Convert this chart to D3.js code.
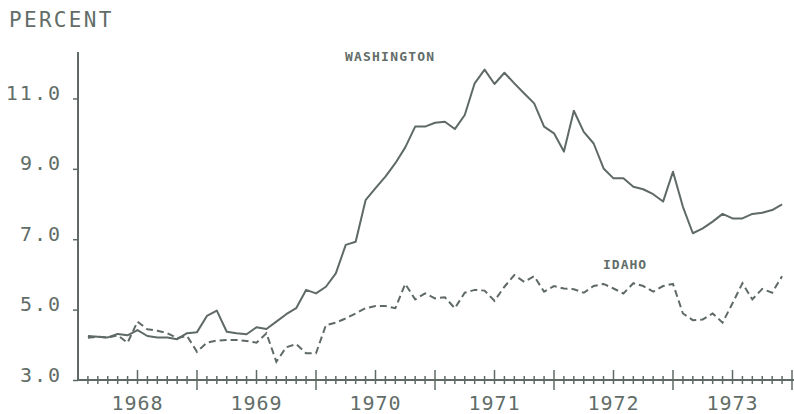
<!DOCTYPE html>
<meta charset="utf-8">
<style>
    body {
        margin: 0;
        background: #fff;
        font-family: "DejaVu Sans Mono", monospace;
    }
    .lbl { fill: #626d68; }
</style>
<body>
<script src="https://cdn.jsdelivr.net/npm/d3@7"></script>
<script>

// monthly rates, Jan 1968 .. Nov 1973
var washington = [
    4.25, 4.23, 4.21, 4.31, 4.27, 4.42, 4.25, 4.21, 4.21, 4.16, 4.33, 4.36,
    4.82, 4.97, 4.37, 4.33, 4.30, 4.50, 4.45, 4.66, 4.87, 5.04, 5.56, 5.46,
    5.65, 6.03, 6.84, 6.93, 8.11, 8.45, 8.78, 9.16, 9.61, 10.20, 10.20, 10.31,
    10.34, 10.13, 10.53, 11.43, 11.82, 11.41, 11.73, 11.43, 11.14, 10.86, 10.20, 10.01,
    9.49, 10.65, 10.05, 9.72, 9.01, 8.73, 8.73, 8.49, 8.42, 8.28, 8.07, 8.92,
    7.92, 7.17, 7.31, 7.50, 7.72, 7.59, 7.59, 7.72, 7.75, 7.83, 7.99
];
var idaho = [
    4.20, 4.23, 4.20, 4.27, 4.06, 4.66, 4.44, 4.40, 4.33, 4.19, 4.25, 3.80,
    4.06, 4.12, 4.14, 4.14, 4.11, 4.06, 4.33, 3.52, 3.93, 4.02, 3.76, 3.76,
    4.56, 4.63, 4.75, 4.89, 5.04, 5.10, 5.10, 5.04, 5.73, 5.29, 5.46, 5.32,
    5.35, 5.04, 5.48, 5.56, 5.54, 5.25, 5.65, 5.98, 5.79, 5.95, 5.51, 5.67,
    5.60, 5.58, 5.48, 5.67, 5.73, 5.60, 5.46, 5.75, 5.67, 5.51, 5.67, 5.73,
    4.89, 4.70, 4.72, 4.89, 4.63, 5.18, 5.75, 5.29, 5.59, 5.48, 5.95
];
var years = ["1968", "1969", "1970", "1971", "1972", "1973"];
var yTicks = [3, 5, 7, 9, 11];

var ink = "#5f6a65";
var width = 794, height = 414;

var svg = d3.select("body").append("svg")
    .attr("width", width)
    .attr("height", height);

// month index 0 = Dec 1967, 72 = Dec 1973
var x = d3.scaleLinear().domain([0, 72]).range([78, 792]);
var y = d3.scaleLinear().domain([3, 12.32]).range([380, 52]);

// y axis
var yAxis = svg.append("g")
    .attr("transform", "translate(78,0)")
    .call(d3.axisLeft(y)
        .tickValues(yTicks)
        .tickSize(5)
        .tickPadding(11)
        .tickFormat(d3.format(".1f")));
yAxis.select(".domain").remove();
yAxis.selectAll("line").attr("stroke", ink).attr("stroke-width", 1.5);
yAxis.selectAll("text")
    .attr("class", "lbl")
    .attr("dy", "0.05em")
    .style("font-size", "20px")
    .style("letter-spacing", "2px")
    .style("font-family", "'DejaVu Sans Mono', monospace");

svg.append("line")
    .attr("x1", 78).attr("x2", 78)
    .attr("y1", 52).attr("y2", 380)
    .attr("stroke", ink).attr("stroke-width", 2);

// x axis with month ticks
svg.append("line")
    .attr("x1", 78).attr("x2", 794)
    .attr("y1", 380).attr("y2", 380)
    .attr("stroke", ink).attr("stroke-width", 2);

var months = d3.range(1, 73);
svg.append("g").selectAll("line")
    .data(months)
  .enter().append("line")
    .attr("x1", function(d) { return x(d); })
    .attr("x2", function(d) { return x(d); })
    .attr("y1", function(d) { return d % 6 == 0 ? 370 : 376; })
    .attr("y2", function(d) { return d % 12 == 0 ? 390 : 384; })
    .attr("stroke", ink)
    .attr("stroke-width", 1.5);

svg.append("g").selectAll("text")
    .data(years)
  .enter().append("text")
    .attr("class", "lbl")
    .attr("x", function(d, i) { return x(i * 12 + 6); })
    .attr("y", 410)
    .attr("text-anchor", "middle")
    .style("font-size", "20px")
    .style("letter-spacing", "1px")
    .text(function(d) { return d; });

svg.append("text")
    .attr("class", "lbl")
    .attr("x", 9)
    .attr("y", 27)
    .style("font-size", "21px")
    .style("letter-spacing", "2.3px")
    .text("PERCENT");

// series
var line = d3.line()
    .x(function(d, i) { return x(i + 1); })
    .y(function(d) { return y(d); });

svg.append("path")
    .datum(washington)
    .attr("d", line)
    .attr("fill", "none")
    .attr("stroke", ink)
    .attr("stroke-width", 2)
    .attr("stroke-linejoin", "round");

svg.append("path")
    .datum(idaho)
    .attr("d", line)
    .attr("fill", "none")
    .attr("stroke", ink)
    .attr("stroke-width", 2)
    .attr("stroke-dasharray", "7,4");

svg.append("text")
    .attr("class", "lbl")
    .attr("x", 345)
    .attr("y", 61)
    .style("font-size", "13px")
    .style("font-weight", "bold")
    .style("letter-spacing", "1.2px")
    .text("WASHINGTON");

svg.append("text")
    .attr("class", "lbl")
    .attr("x", 603)
    .attr("y", 269)
    .style("font-size", "13px")
    .style("font-weight", "bold")
    .style("letter-spacing", "1px")
    .text("IDAHO");

</script>
</body>
